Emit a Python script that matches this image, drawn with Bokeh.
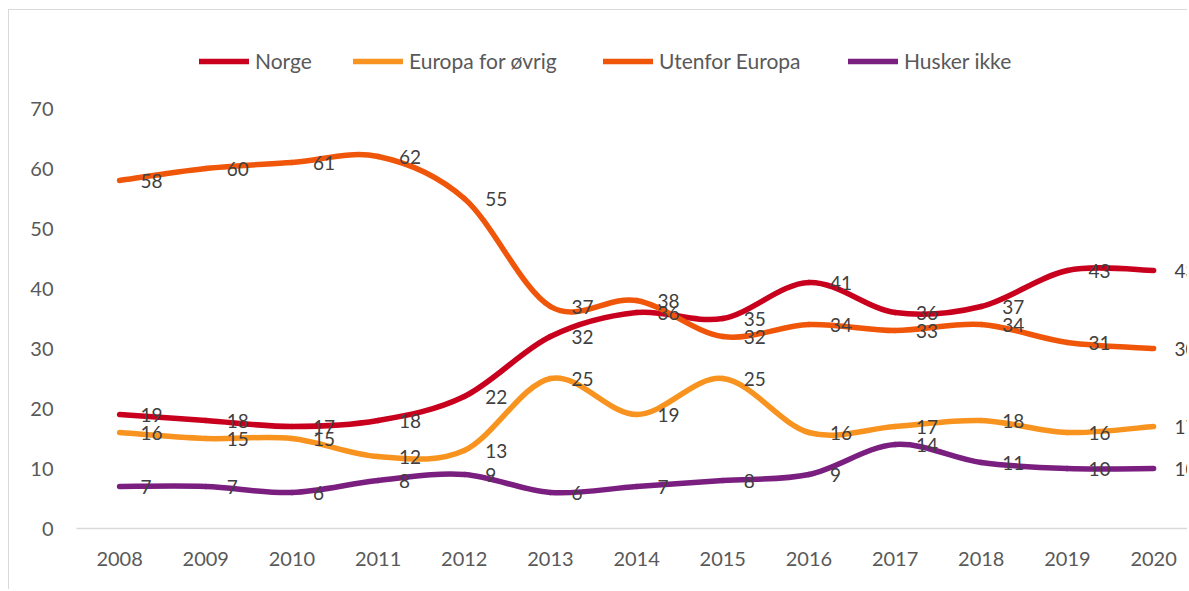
from bokeh.plotting import figure
from bokeh.models import Range1d, FixedTicker, Legend, LegendItem, ColumnDataSource
from bokeh.core.properties import value
from bokeh.embed import file_html
from bokeh.resources import INLINE

years = [2008, 2009, 2010, 2011, 2012, 2013, 2014, 2015, 2016, 2017, 2018, 2019, 2020]
norge = [19, 18, 17, 18, 22, 32, 36, 35, 41, 36, 37, 43, 43]
europa = [16, 15, 15, 12, 13, 25, 19, 25, 16, 17, 18, 16, 17]
utenfor = [58, 60, 61, 62, 55, 37, 38, 32, 34, 33, 34, 31, 30]
husker = [7, 7, 6, 8, 9, 6, 7, 8, 9, 14, 11, 10, 10]
series_names = ["Norge", "Europa for øvrig", "Utenfor Europa", "Husker ikke"]
y_ticks = [0, 10, 20, 30, 40, 50, 60, 70]

colors = ["#C8001E", "#F7931E", "#F0560A", "#7A1E80"]
legend_x = [123, 277, 527, 772]
FONT = "Lato"


def bezier_source(xs, ys):
    n = len(xs)
    d = dict(x0=[], y0=[], x1=[], y1=[], cx0=[], cy0=[], cx1=[], cy1=[])
    for i in range(n - 1):
        a = i - 1 if i > 0 else i
        b = i + 2 if i + 2 < n else i + 1
        d["x0"].append(xs[i]); d["y0"].append(ys[i])
        d["x1"].append(xs[i + 1]); d["y1"].append(ys[i + 1])
        d["cx0"].append(xs[i] + (xs[i + 1] - xs[a]) / 6)
        d["cy0"].append(ys[i] + (ys[i + 1] - ys[a]) / 6)
        d["cx1"].append(xs[i + 1] - (xs[b] - xs[i]) / 6)
        d["cy1"].append(ys[i + 1] - (ys[b] - ys[i]) / 6)
    return ColumnDataSource(d)


p = figure(width=1179, height=580, output_backend="svg", toolbar_location=None,
           x_range=Range1d(2007.5, 2020.405), y_range=Range1d(0, 83),
           min_border_left=67, min_border_right=0, min_border_top=20, min_border_bottom=62)
p.styles = {"margin-left": "8px", "margin-top": "9px",
            "border-left": "1px solid #d9d9d9", "border-top": "1px solid #d9d9d9"}
p.outline_line_color = None
p.xgrid.grid_line_color = None
p.ygrid.grid_line_color = None

p.xaxis.ticker = FixedTicker(ticks=years)
p.xaxis.axis_line_color = "#d9d9d9"
p.xaxis.axis_line_width = 1.5
p.xaxis.major_tick_line_color = None
p.xaxis.minor_tick_line_color = None
p.xaxis.major_label_standoff = 17
p.xaxis.major_label_text_font = FONT
p.xaxis.major_label_text_font_size = "20px"
p.xaxis.major_label_text_color = "#595959"

p.yaxis.ticker = FixedTicker(ticks=y_ticks)
p.yaxis.axis_line_color = None
p.yaxis.major_tick_line_color = None
p.yaxis.minor_tick_line_color = None
p.yaxis.major_label_standoff = 17
p.yaxis.major_label_text_font = FONT
p.yaxis.major_label_text_font_size = "20px"
p.yaxis.major_label_text_color = "#595959"

renderers = []
for vals, col in zip([norge, europa, utenfor, husker], colors):
    r = p.bezier(x0="x0", y0="y0", x1="x1", y1="y1", cx0="cx0", cy0="cy0", cx1="cx1", cy1="cy1",
                 source=bezier_source(years, vals), line_color=col, line_width=5.5, line_cap="round")
    renderers.append(r)

for vals in [norge, europa, utenfor, husker]:
    p.text(x=years, y=vals, text=[str(v) for v in vals], x_offset=21,
           text_align="left", text_baseline="middle", text_font=value(FONT),
           text_font_size="19px", text_color="#404040")

for name, r, lx in zip(series_names, renderers, legend_x):
    legend = Legend(items=[LegendItem(label=name, renderers=[r])], orientation="horizontal",
                    location=(lx, 455), glyph_width=50, glyph_height=20, label_height=20,
                    label_standoff=6, padding=0, margin=0, border_line_alpha=0,
                    background_fill_alpha=0, label_text_font=FONT,
                    label_text_font_size="21px", label_text_color="#595959")
    p.add_layout(legend)

open("out.html", "w").write(file_html(p, INLINE))
